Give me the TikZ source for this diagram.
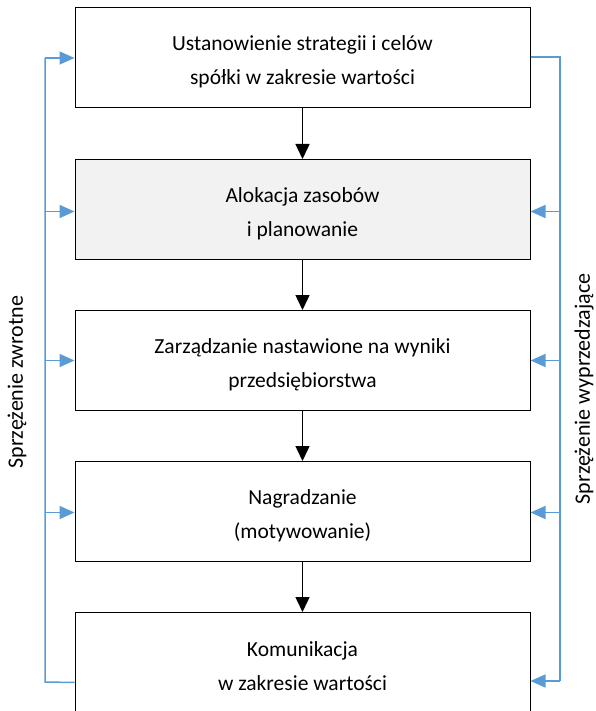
\documentclass[tikz,border=0pt]{standalone}
\usepackage{fontspec}
\setmainfont{Carlito}
\usetikzlibrary{arrows.meta,calc}
\definecolor{fbblue}{HTML}{5B9BD5}
\definecolor{boxgray}{HTML}{F2F2F2}
\tikzset{
  stagebox/.style={draw=black, line width=1pt, minimum width=455pt, minimum height=100pt, inner sep=0pt},
  stagetext/.style={align=center, font=\fontsize{21.5}{34}\selectfont, inner sep=0pt},
  flowarrow/.style={line width=1.5pt, -{Triangle[length=15pt,width=14pt]}},
  fbline/.style={draw=fbblue, line width=1.5pt},
  fbarrow/.style={fbline, -{Triangle[length=15pt,width=13pt]}},
  sidelabel/.style={rotate=90, font=\fontsize{22}{26}\selectfont, inner sep=0pt}
}
\begin{document}
\begin{tikzpicture}[x=1pt,y=-1pt]
\useasboundingbox (0,0) rectangle (595,711);
\node[stagebox] (b1) at (302.5,58) {};
\node[stagebox, fill=boxgray] (b2) at (302.5,209.5) {};
\node[stagebox] (b3) at (302.5,360.5) {};
\node[stagebox] (b4) at (302.5,511.5) {};
\node[stagebox] (b5) at (302.5,662.5) {};

\node[stagetext] (t1) at ([yshift=-4pt]b1.center) {Ustanowienie strategii i celów\\spółki w zakresie wartości};
\node[stagetext] (t2) at ([yshift=-4pt]b2.center) {Alokacja zasobów\\i planowanie};
\node[stagetext] (t3) at ([yshift=-4pt]b3.center) {Zarządzanie nastawione na wyniki\\przedsiębiorstwa};
\node[stagetext] (t4) at ([yshift=-4pt]b4.center) {Nagradzanie\\(motywowanie)};
\node[stagetext] (t5) at ([yshift=-4pt]b5.center) {Komunikacja\\w zakresie wartości};

\draw[flowarrow] (b1) -- (b2);
\draw[flowarrow] (b2) -- (b3);
\draw[flowarrow] (b3) -- (b4);
\draw[flowarrow] (b4) -- (b5);

% feedback (left)
\coordinate (lb) at (45,682);
\coordinate (lt) at (45,58);
\draw[fbline] ([yshift=-20pt]b5.west) -- (lb) -- (lt);
\draw[fbarrow] (lt) -- (b1.west);
\draw[fbarrow] ($(lt |- b2.west)+(0,2)$) -- ($(b2.west)+(0,2)$);
\draw[fbarrow] (lt |- b3.west) -- (b3.west);
\draw[fbarrow] ($(lt |- b4.west)+(0,1)$) -- ($(b4.west)+(0,1)$);

% feedforward (right)
\coordinate (rt) at (560,57);
\coordinate (rb) at (560,681);
\draw[fbline] ([yshift=1pt]b1.east) -- (rt) -- (rb);
\draw[fbarrow] ($(rt |- b2.east)+(0,2)$) -- ($(b2.east)+(0,2)$);
\draw[fbarrow] (rt |- b3.east) -- (b3.east);
\draw[fbarrow] ($(rt |- b4.east)+(0,1)$) -- ($(b4.east)+(0,1)$);
\draw[fbarrow] (rb) -- (rb -| b5.east);

\node[sidelabel] (lfb) at (17,382) {Sprzężenie zwrotne};
\node[sidelabel] (rff) at (584,389) {Sprzężenie wyprzedzające};
\end{tikzpicture}
\end{document}
